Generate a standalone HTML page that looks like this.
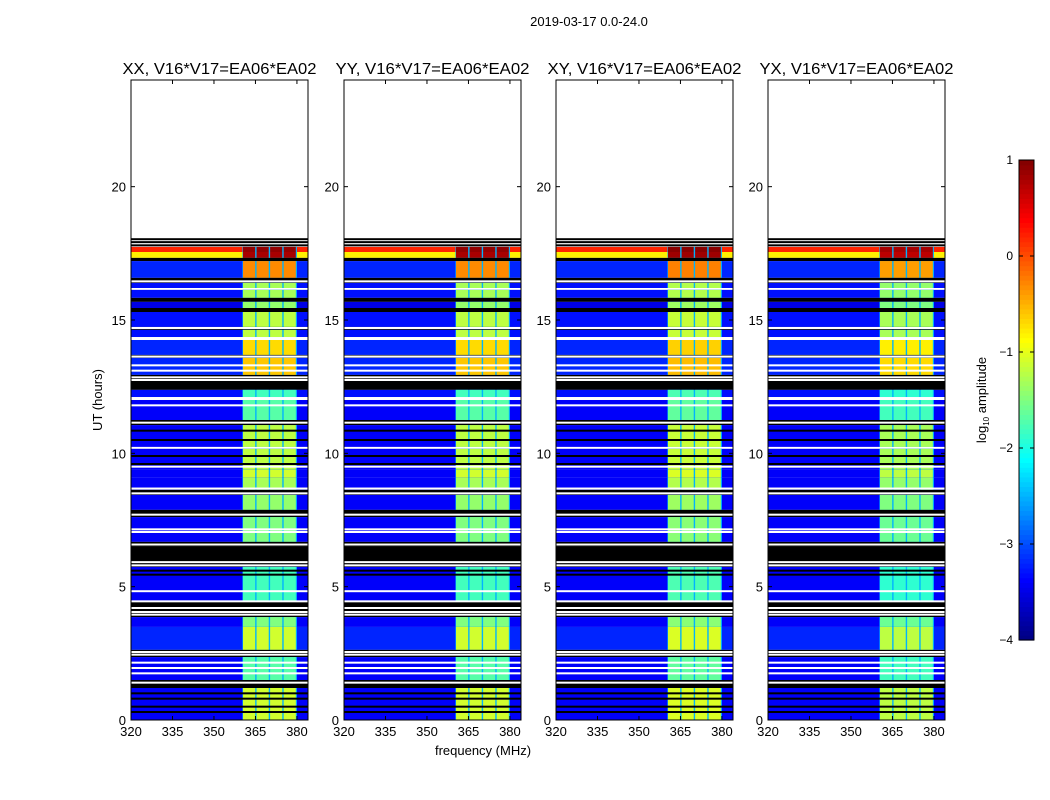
<!DOCTYPE html>
<html><head><meta charset="utf-8"><style>
html,body{margin:0;padding:0;background:#fff;}
svg{display:block;font-family:"Liberation Sans",sans-serif;}
</style></head><body>
<svg id="fig" width="1050" height="800" viewBox="0 0 1050 800" xmlns="http://www.w3.org/2000/svg">
<text x="589" y="26" font-size="13" text-anchor="middle">2019-03-17 0.0-24.0</text>
<text transform="translate(102,400) rotate(-90)" font-size="13" text-anchor="middle">UT (hours)</text>
<text x="483" y="755" font-size="13" text-anchor="middle">frequency (MHz)</text>
<g id="panels"></g>
<g id="cbar"></g>
</svg>
<script>
// ---- data ----
const panelTitles = ["XX, V16*V17=EA06*EA02","YY, V16*V17=EA06*EA02","XY, V16*V17=EA06*EA02","YX, V16*V17=EA06*EA02"];
const panelBandOffset = [0, 0, 0.05, -0.1];
const xTicks = [320,335,350,365,380];
const yTicks = [0,5,10,15,20];
const cbTicks = [1,0,-1,-2,-3,-4];
// time segments: [tStart, tEnd, kind, bgLevel, bandLevel]
const segStart = [17.74,17.55,17.33,17.21,16.58,16.39,16.2,16.13,15.83,15.68,15.45,15.3,14.74,14.63,14.36,14.25,13.69,13.58,12.94,12.38,12.11,12.0,11.25,11.06,10.24,10.17,9.38,9.08,8.63,8.44,7.88,7.61,6.68,6.49,5.74,5.25,4.43,3.86,3.49,2.63,2.36,1.5,1.2,0];
const segEnd   = [18.08,17.74,17.55,17.33,17.21,16.58,16.39,16.2,16.13,15.83,15.68,15.45,15.3,14.74,14.63,14.36,14.25,13.69,13.58,12.94,12.38,12.11,12.0,11.25,11.06,10.24,10.17,9.38,9.08,8.63,8.44,7.88,7.61,6.68,6.49,5.74,5.25,4.43,3.86,3.49,2.63,2.36,1.5,1.2];
const segKind  = ["w","d","d","k","d","k","d","w","d","k","d","k","d","k","d","w","d","k","d","k","d","w","d","k","d","w","d","d","d","k","d","k","d","k","k","d","d","k","d","d","k","d","k","d"];
const segBg    = [0,0.2,-0.8,0,-3.2,0,-3.3,0,-3.3,0,-3.5,0,-3.3,0,-3.3,0,-3.2,0,-3.2,0,-3.3,0,-3.4,0,-3.4,0,-3.4,-3.4,-3.4,0,-3.4,0,-3.4,0,0,-3.4,-3.4,0,-3.4,-3.2,0,-3.4,0,-3.4];
const segBand  = [0,0.9,0.8,0,-0.3,0,-1.3,0,-1.3,0,-1.4,0,-1.2,0,-1.2,0,-0.7,0,-0.6,0,-1.8,0,-1.7,0,-1.2,0,-1.2,-1.1,-1.3,0,-1.4,0,-1.5,0,0,-1.8,-1.8,0,-1.5,-1.1,0,-1.7,0,-1.1];
const whiteLines = [16.45,14.7,13.63,13.3,13.1,12.85,12.75,11.8,11.15,9.5,8.68,8.5,7.7,7.15,7.05,6.58,5.92,5.8,4.83,4.45,4.2,4.05,3.95,2.55,2.45,2.15,1.95,1.75,1.4];
const blackLines = [18.03,17.92,17.8,10.85,10.5,9.9,9.6,5.6,5.45,1.0,0.8,0.5,0.3];
const subbandStart = [360.5,365.4,370.3,375.2];
const subbandWidth = 4.4;
const bandStart = 360.3, bandEnd = 380.0;
const sepLevel = -2.5;

// ---- geometry ----
const panelX = [131,344,556,768], PW = 177, PT = 80, PB = 720;
const fMin = 320, fMax = 384, tMin = 0, tMax = 24;
const NS = "http://www.w3.org/2000/svg";
function xs(p,f){return panelX[p] + (f-fMin)/(fMax-fMin)*PW;}
function ys(t){return PB - (t-tMin)/(tMax-tMin)*(PB-PT);}
function jet(v){
  let x=(v+4)/5; x=Math.max(0,Math.min(1,x));
  const r=Math.min(Math.max(Math.min(4*x-1.5,-4*x+4.5),0),1);
  const g=Math.min(Math.max(Math.min(4*x-0.5,-4*x+3.5),0),1);
  const b=Math.min(Math.max(Math.min(4*x+0.5,-4*x+2.5),0),1);
  return `rgb(${Math.round(r*255)},${Math.round(g*255)},${Math.round(b*255)})`;
}
function mk(tag,attrs,parent){const e=document.createElementNS(NS,tag);for(const k in attrs)e.setAttribute(k,attrs[k]);parent.appendChild(e);return e;}

const root=document.getElementById('panels');
for(let p=0;p<4;p++){
  const g=mk('g',{},root);
  
  
  for(let i=0;i<segStart.length;i++){
    const y1=ys(segEnd[i]), y0=ys(segStart[i]), h=y0-y1;
    let fill = segKind[i]==='w'?'#fff':segKind[i]==='k'?'#000':jet(segBg[i]);
    const r=mk('rect',{x:xs(p,fMin),y:y1,width:PW,height:h,fill:fill},g);
    
    
    if(segKind[i]==='d'){
      const band=mk('rect',{x:xs(p,bandStart),y:y1,width:xs(p,bandEnd)-xs(p,bandStart),height:h,fill:jet(sepLevel)},g);
      
      
      for(let s=0;s<subbandStart.length;s++){
        const sb=mk('rect',{x:xs(p,subbandStart[s]),y:y1,width:xs(p,subbandStart[s]+subbandWidth)-xs(p,subbandStart[s]),height:h,fill:jet(segBand[i]+panelBandOffset[p])},g);
        
        
      }
    }
  }
  whiteLines.forEach(t=>{const l=mk('rect',{x:xs(p,fMin),y:ys(t)-1,width:PW,height:2,fill:'#fff'},g);
    
    });
  blackLines.forEach(t=>{const l=mk('rect',{x:xs(p,fMin),y:ys(t)-1,width:PW,height:2,fill:'#000'},g);
    
    });
  const fr=mk('rect',{x:panelX[p],y:PT,width:PW,height:PB-PT,fill:'none',stroke:'#000','stroke-width':1},g);
  
  
  const tt=mk('text',{x:panelX[p]+PW/2,y:74,'font-size':16,'text-anchor':'middle',textLength:194,lengthAdjust:'spacingAndGlyphs'},g);
  tt.textContent=panelTitles[p];
  
  
  xTicks.forEach(v=>{const x=xs(p,v);
    mk('line',{x1:x,x2:x,y1:PB,y2:PB-4,stroke:'#000'},g);
    mk('line',{x1:x,x2:x,y1:PT,y2:PT+4,stroke:'#000'},g);
    const t=mk('text',{x:x,y:PB+16,'font-size':13,'text-anchor':'middle'},g);t.textContent=v;
    
    });
  yTicks.forEach(v=>{const y=ys(v);
    mk('line',{x1:panelX[p],x2:panelX[p]+4,y1:y,y2:y,stroke:'#000'},g);
    mk('line',{x1:panelX[p]+PW,x2:panelX[p]+PW-4,y1:y,y2:y,stroke:'#000'},g);
    const t=mk('text',{x:panelX[p]-5,y:y+5,'font-size':13,'text-anchor':'end'},g);t.textContent=v;
    
    });
}
// colorbar
const cb=document.getElementById('cbar');


const CX=1019,CW=15,CT=160,CB=640;
function cy(v){return CB-(v+4)/5*(CB-CT);}
for(let i=0;i<100;i++){const v0=-4+i*0.05;
  mk('rect',{x:CX,y:cy(v0+0.05),width:CW,height:(CB-CT)/100+0.6,fill:jet(v0+0.025)},cb);}
mk('rect',{x:CX,y:CT,width:CW,height:CB-CT,fill:'none',stroke:'#000'},cb);
cbTicks.forEach(v=>{const y=cy(v);
  mk('line',{x1:CX,x2:CX+4,y1:y,y2:y,stroke:'#000'},cb);
  mk('line',{x1:CX+CW,x2:CX+CW-4,y1:y,y2:y,stroke:'#000'},cb);
  const t=mk('text',{x:1013,y:y+4,'font-size':12,'text-anchor':'end'},cb);
  t.textContent=(v<0?'\u2212'+(-v):v);
  
  });
const lab=mk('text',{transform:'translate(986,400) rotate(-90)','font-size':13,'text-anchor':'middle'},cb);
lab.innerHTML='log<tspan font-size="8" dy="3">10</tspan><tspan dy="-3"> amplitude</tspan>';


</script>
</body></html>
